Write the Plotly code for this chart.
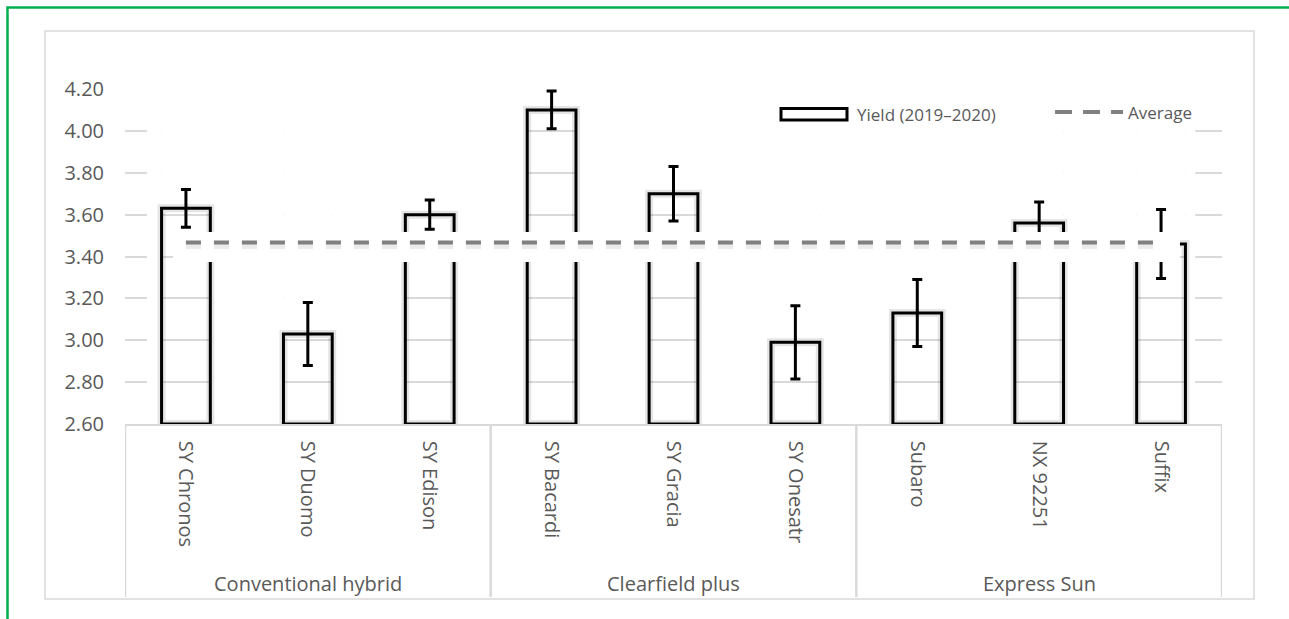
import plotly.graph_objects as go

# ---------------- data ----------------
varieties = ["SY Chronos", "SY Duomo", "SY Edison", "SY Bacardi", "SY Gracia",
             "SY Onesatr", "Subaro", "NX 92251", "Suffix"]
groups = ["Conventional hybrid", "Clearfield plus", "Express Sun"]
group_sizes = [3, 3, 3]
yield_vals = [3.63, 3.03, 3.60, 4.10, 3.70, 2.99, 3.13, 3.56, 3.46]
yield_err = [0.09, 0.15, 0.07, 0.09, 0.13, 0.175, 0.16, 0.10, 0.165]
y_ticks = [2.6, 2.8, 3.0, 3.2, 3.4, 3.6, 3.8, 4.0, 4.2]
series_names = ["Yield (2019\u20132020)", "Average"]

average = sum(yield_vals) / len(yield_vals)

# ---------------- layout geometry (style) ----------------
W, H = 1289, 619
L, R, T, B = 125, 1222, 89, 424  # plot area pixels
FONT = "Open Sans"
TXT = "#595959"
GRID = "#d9d9d9"
BAR_W = 0.4
MASK_TOP = 4.1


def px2x(px):
    return (px - L) / (R - L)


def py2y(py):
    return (B - py) / (B - T)


xs = list(range(len(varieties)))
bar_heights = [v - y_ticks[0] for v in yield_vals]

fig = go.Figure()

# soft glow / shadow around bar outlines
fig.add_trace(go.Bar(
    x=xs, y=bar_heights, base=y_ticks[0], width=BAR_W,
    marker=dict(color="rgba(0,0,0,0)", line=dict(color="rgba(0,0,0,0.10)", width=8)),
    showlegend=False, hoverinfo="skip",
))
# bars (transparent fill, thick black outline) with error bars
fig.add_trace(go.Bar(
    x=xs, y=bar_heights, base=y_ticks[0], width=BAR_W,
    marker=dict(color="rgba(0,0,0,0)", line=dict(color="black", width=3)),
    error_y=dict(type="data", array=yield_err, color="black", thickness=3, width=5),
    name=series_names[0], showlegend=False, hoverinfo="skip",
))

# white band behind the average line
band_x0, band_x1 = xs[0] - 0.106, xs[-1] + 0.155
band_lo, band_hi = average - 0.093, average + 0.05
fig.add_trace(go.Scatter(
    x=[band_x0, band_x1, band_x1, band_x0, band_x0],
    y=[band_lo, band_lo, band_hi, band_hi, band_lo],
    fill="toself", fillcolor="white", mode="lines", line=dict(width=0),
    showlegend=False, hoverinfo="skip",
))
# soft shadow of the dashes
fig.add_trace(go.Scatter(
    x=[xs[0], xs[-1]], y=[average - 0.012, average - 0.012], mode="lines",
    line=dict(color="rgba(128,128,128,0.16)", width=8, dash="15px,13px"),
    showlegend=False, hoverinfo="skip",
))
# average dashed line
fig.add_trace(go.Scatter(
    x=[xs[0], xs[-1]], y=[average, average], mode="lines",
    line=dict(color="#808080", width=4, dash="15px,13px"),
    name=series_names[1], showlegend=False, hoverinfo="skip",
))

shapes = []
# white masks hiding gridlines outside the bar rectangles
gaps = [(-0.32, xs[0] - BAR_W / 2)]
for i in xs[:-1]:
    gaps.append((i + BAR_W / 2, i + 1 - BAR_W / 2))
gaps.append((xs[-1] + BAR_W / 2, 8.28))
for g0, g1 in gaps:
    shapes.append(dict(type="rect", xref="x", yref="y", x0=g0, x1=g1,
                       y0=2.615, y1=MASK_TOP, fillcolor="white", line=dict(width=0),
                       layer="between"))
for i, v in zip(xs, yield_vals):
    if v < MASK_TOP:
        shapes.append(dict(type="rect", xref="x", yref="y",
                           x0=i - BAR_W / 2, x1=i + BAR_W / 2,
                           y0=v, y1=MASK_TOP, fillcolor="white", line=dict(width=0),
                           layer="between"))

# category box separators
bounds = [-0.5]
for s in group_sizes:
    bounds.append(bounds[-1] + s)
for bx in bounds:
    shapes.append(dict(type="line", xref="x", yref="paper", x0=bx, x1=bx,
                       y0=py2y(B), y1=py2y(597), line=dict(color=GRID, width=2.5)))

# inner chart border
shapes.append(dict(type="rect", xref="paper", yref="paper",
                   x0=px2x(45), x1=px2x(1254), y0=py2y(599), y1=py2y(31),
                   line=dict(color=GRID, width=1.5), fillcolor="rgba(0,0,0,0)"))
# white strip on the far right edge
shapes.append(dict(type="rect", xref="paper", yref="paper",
                   x0=px2x(1275), x1=px2x(1295), y0=py2y(640), y1=py2y(9.5),
                   line=dict(width=0), fillcolor="white"))
# outer green border (left and top edges visible)
shapes.append(dict(type="line", xref="paper", yref="paper",
                   x0=px2x(7.5), x1=px2x(7.5), y0=py2y(7.5), y1=py2y(619),
                   line=dict(color="#00B050", width=2.5)))
shapes.append(dict(type="line", xref="paper", yref="paper",
                   x0=px2x(6.3), x1=px2x(1289), y0=py2y(7.5), y1=py2y(7.5),
                   line=dict(color="#00B050", width=2.5)))

# custom legend swatches
shapes.append(dict(type="rect", xref="paper", yref="paper",
                   x0=px2x(781), x1=px2x(847), y0=py2y(120), y1=py2y(108.5),
                   line=dict(color="black", width=3), fillcolor="white"))
shapes.append(dict(type="line", xref="paper", yref="paper",
                   x0=px2x(1055), x1=px2x(1123), y0=py2y(112), y1=py2y(112),
                   line=dict(color="#808080", width=4, dash="17px,11px")))

annotations = []
# group labels
start = 0
for g, s in zip(groups, group_sizes):
    center = start + (s - 1) / 2
    annotations.append(dict(x=center, y=py2y(583), xref="x", yref="paper",
                            text=g, showarrow=False, xanchor="center", yanchor="middle",
                            font=dict(family=FONT, size=20, color=TXT)))
    start += s
# legend texts
annotations.append(dict(x=px2x(855), y=py2y(114), xref="paper", yref="paper",
                        text=series_names[0], showarrow=False,
                        xanchor="left", yanchor="middle",
                        font=dict(family=FONT, size=17, color=TXT)))
annotations.append(dict(x=px2x(1126), y=py2y(113), xref="paper", yref="paper",
                        text=series_names[1], showarrow=False,
                        xanchor="left", yanchor="middle",
                        font=dict(family=FONT, size=17, color=TXT)))

fig.update_layout(
    width=W, height=H,
    margin=dict(l=L, r=W - R, t=T, b=H - B, autoexpand=False),
    paper_bgcolor="white", plot_bgcolor="white",
    showlegend=False, barmode="overlay",
    shapes=shapes, annotations=annotations,
    xaxis=dict(range=[-0.5, len(varieties) - 0.5], tickmode="array",
               tickvals=xs, ticktext=varieties, tickangle=90,
               tickfont=dict(family=FONT, size=20, color=TXT),
               showgrid=False, zeroline=False, showline=True,
               linecolor=GRID, linewidth=1.5, ticks="",
               ticklabelstandoff=11, automargin=False),
    yaxis=dict(range=[y_ticks[0], y_ticks[-1]], tickmode="array",
               tickvals=y_ticks, ticktext=[f"{v:.2f}" for v in y_ticks],
               tickfont=dict(family=FONT, size=20, color=TXT),
               showgrid=True, gridcolor=GRID, gridwidth=1.5,
               zeroline=False, showline=False, ticks="",
               ticklabelstandoff=20, automargin=False),
)

fig.write_html("out.html", config={"displayModeBar": False},
               post_script="document.body.style.margin='0';document.body.style.overflow='hidden';")
